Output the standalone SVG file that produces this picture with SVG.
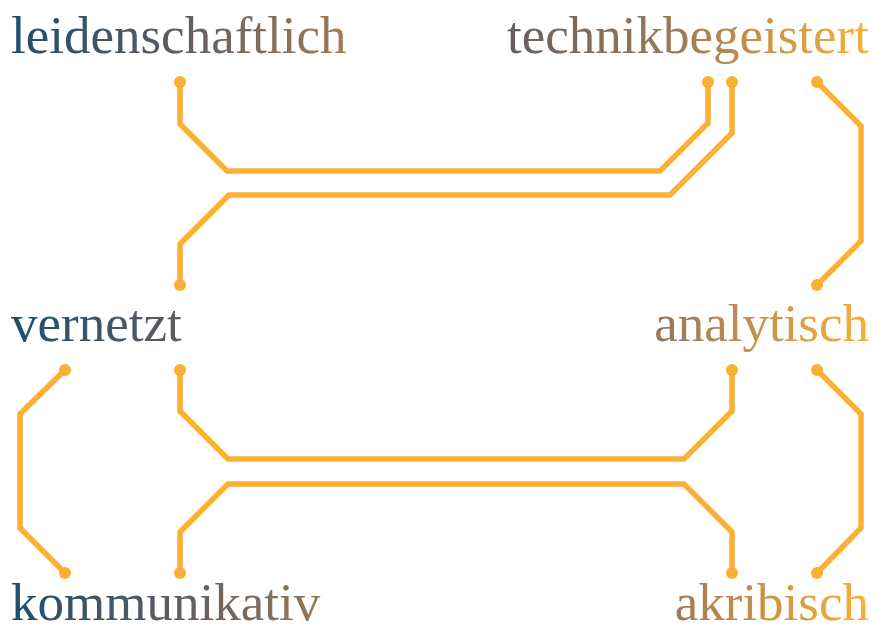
<svg xmlns="http://www.w3.org/2000/svg" width="873" height="632" viewBox="0 0 873 632">
  <defs>
    <linearGradient id="gl" gradientUnits="userSpaceOnUse" x1="12" y1="0" x2="530" y2="0">
      <stop offset="0" stop-color="#1d4e6f"/>
      <stop offset="0.3" stop-color="#5c5b62"/>
      <stop offset="0.65" stop-color="#a27d57"/>
      <stop offset="1" stop-color="#fbb034"/>
    </linearGradient>
    <linearGradient id="gr" gradientUnits="userSpaceOnUse" x1="310" y1="0" x2="868" y2="0">
      <stop offset="0" stop-color="#1d4e6f"/>
      <stop offset="0.3" stop-color="#5a5a62"/>
      <stop offset="0.65" stop-color="#9c7a58"/>
      <stop offset="1" stop-color="#fbb034"/>
    </linearGradient>
  </defs>
  <style>
    text { font-family: "Liberation Serif", "Times New Roman", serif; font-size: 53px; }
    .l { fill: url(#gl); }
    .r { fill: url(#gr); text-anchor: end; }
    .wire { fill: none; stroke: #fbb034; stroke-width: 5.5; stroke-linejoin: miter; }
    .dot { fill: #fbb034; }
  </style>
  <g id="connectors">
    <path class="wire" d="M180,82 V124 L227,171 H660 L708,123 V82"/>
    <path class="wire" d="M732,82 V133 L670,195 H229 L180,244 V285"/>
    <path class="wire" d="M817,82 L861,126 V241 L817,285"/>
    <path class="wire" d="M65,370 L20,414 V528 L65,573"/>
    <path class="wire" d="M180,370 V411 L228,459 H684 L732,411 V370"/>
    <path class="wire" d="M180,573 V532 L228,484 H684 L732,532 V573"/>
    <path class="wire" d="M817,370 L861,414 V528 L817,573"/>
    <circle class="dot" cx="180" cy="82" r="6"/>
    <circle class="dot" cx="708" cy="82" r="6"/>
    <circle class="dot" cx="732" cy="82" r="6"/>
    <circle class="dot" cx="817" cy="82" r="6"/>
    <circle class="dot" cx="180" cy="285" r="6"/>
    <circle class="dot" cx="817" cy="285" r="6"/>
    <circle class="dot" cx="65" cy="370" r="6"/>
    <circle class="dot" cx="180" cy="370" r="6"/>
    <circle class="dot" cx="732" cy="370" r="6"/>
    <circle class="dot" cx="817" cy="370" r="6"/>
    <circle class="dot" cx="65" cy="573" r="6"/>
    <circle class="dot" cx="180" cy="573" r="6"/>
    <circle class="dot" cx="732" cy="573" r="6"/>
    <circle class="dot" cx="817" cy="573" r="6"/>
  </g>
  <g id="leidenschaftlich"><text class="l" x="11" y="53">leidenschaftlich</text></g>
  <g id="technikbegeistert"><text class="r" x="869" y="53">technikbegeistert</text></g>
  <g id="vernetzt"><text class="l" x="11" y="341">vernetzt</text></g>
  <g id="analytisch"><text class="r" x="869" y="341">analytisch</text></g>
  <g id="kommunikativ"><text class="l" x="11" y="620">kommunikativ</text></g>
  <g id="akribisch"><text class="r" x="869" y="620">akribisch</text></g>
</svg>
